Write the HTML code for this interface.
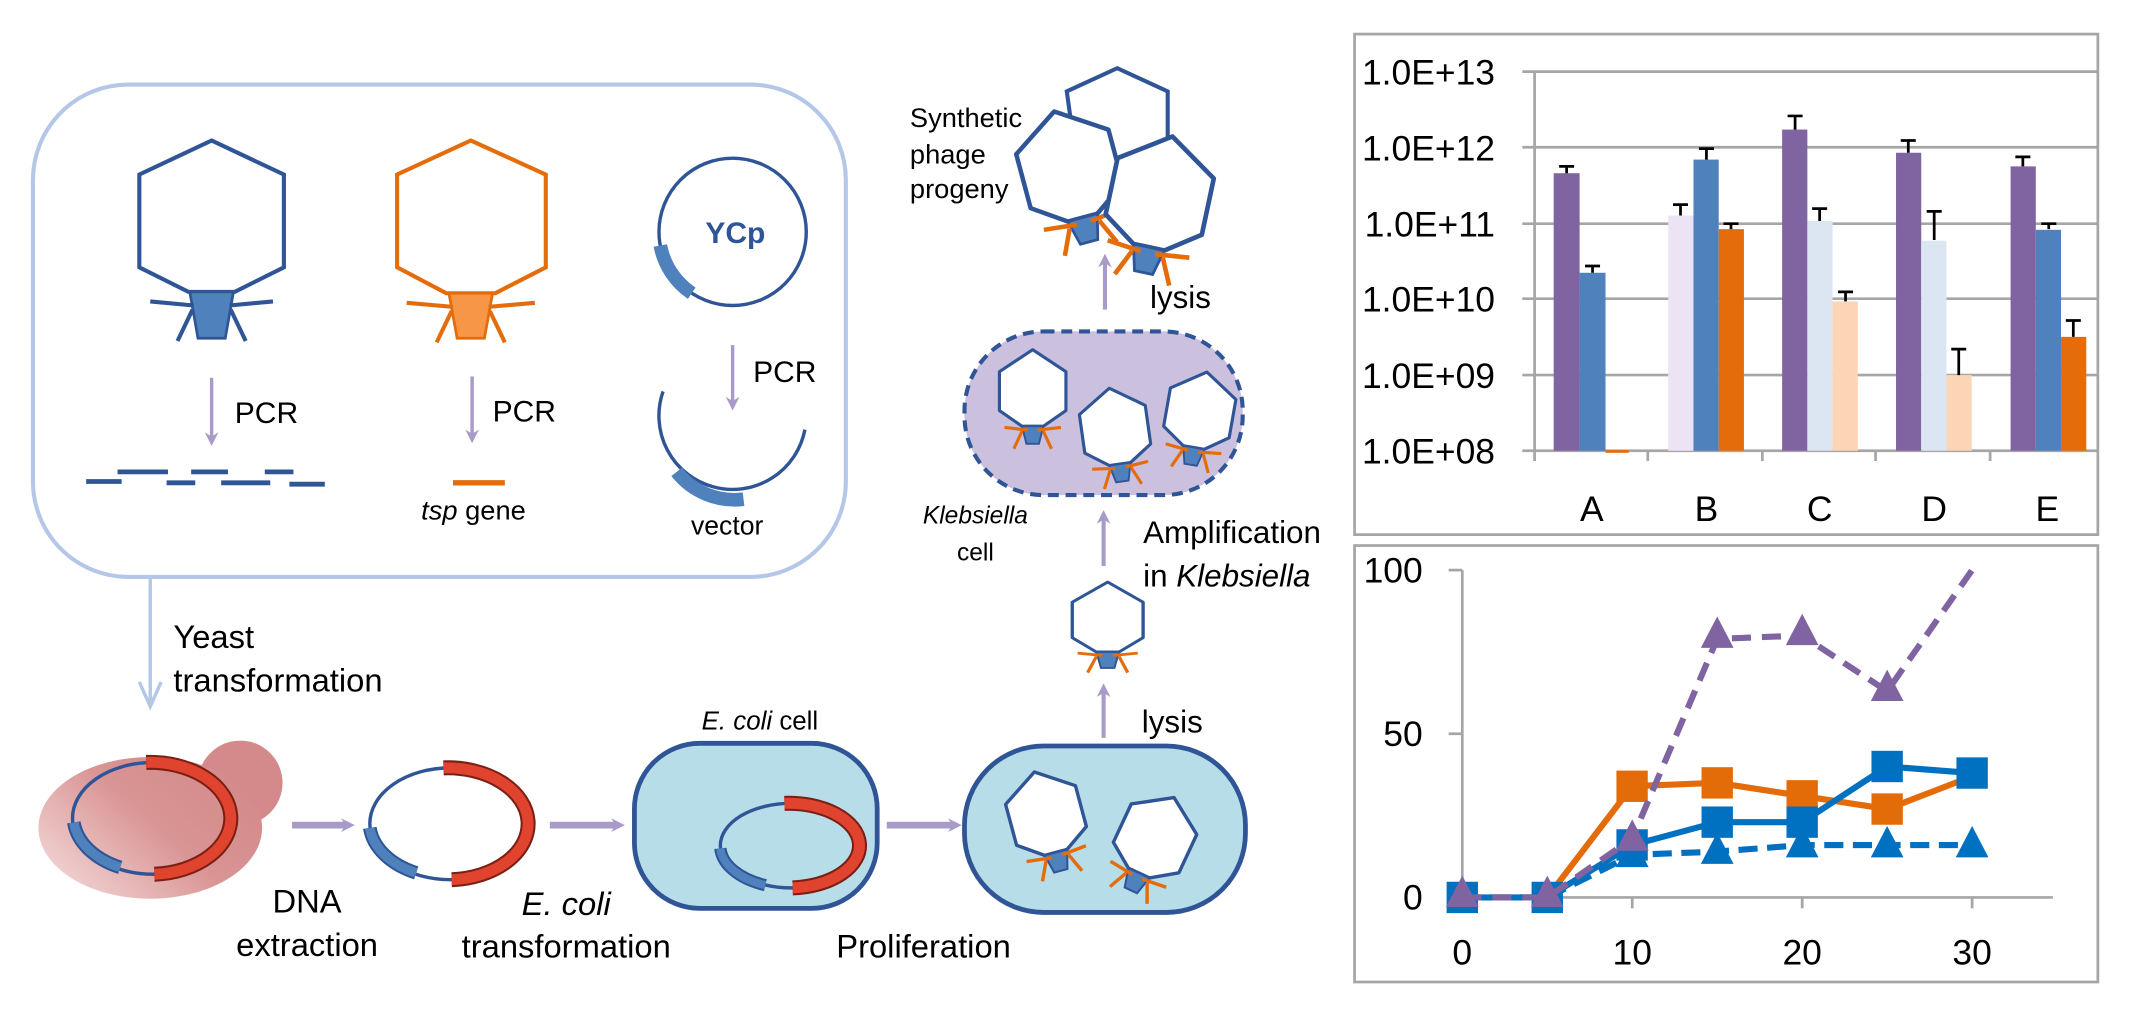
<!DOCTYPE html>
<html><head><meta charset="utf-8"><style>html,body{margin:0;padding:0;background:#fff}svg{display:block}</style></head>
<body>
<svg width="2139" height="1012" viewBox="0 0 1568 742" xmlns="http://www.w3.org/2000/svg" font-family="Liberation Sans, sans-serif">
<defs>
<linearGradient id="yg" x1="0" y1="1" x2="1" y2="0.3"><stop offset="0" stop-color="#f7e1e1"/><stop offset="0.6" stop-color="#d99494"/><stop offset="1" stop-color="#d48a8a"/></linearGradient>
<g id="ph">
<polygon points="0,-60 53,-25 53,37 17,62 -17,62 -53,37 -53,-25" fill="#fff" stroke="#2f5597" stroke-width="5" stroke-linejoin="round"/>
<polygon points="-17,62 17,62 10,90 -10,90" fill="#4f81bd" stroke="#2f5597" stroke-width="3"/>
<g stroke="#e46c0a" stroke-width="5"><line x1="-8" y1="68" x2="-45" y2="64"/><line x1="8" y1="68" x2="45" y2="64"/><line x1="-17" y1="70" x2="-30" y2="98"/><line x1="17" y1="70" x2="30" y2="98"/></g>
</g>
<marker id="ar" markerWidth="10" markerHeight="10" refX="5" refY="5" orient="auto" markerUnits="userSpaceOnUse"><path d="M0,0 L10,5 L0,10 L3,5z" fill="#a99bc9"/></marker>
<path id="tri" d="M0,-14 L12,9 L-12,9z"/>
</defs>

<rect x="24" y="62" width="596" height="361" rx="70" fill="none" stroke="#b4c7e7" stroke-width="3"/>
<polygon points="155,103 208,128 208,196 172,214 138,214 102,196 102,128" fill="#fff" stroke="#2f5597" stroke-width="3"/>
<polygon points="139,214 171,214 165,248 145,248" fill="#4f81bd" stroke="#2f5597" stroke-width="2"/>
<g stroke="#2f5597" stroke-width="3"><line x1="142" y1="224" x2="110" y2="221"/><line x1="168" y1="224" x2="200" y2="221"/><line x1="141" y1="227" x2="130" y2="250"/><line x1="169" y1="227" x2="180" y2="250"/></g>
<polygon points="345,103 400,128 400,196 363,215 327,215 291,196 291,128" fill="#fff" stroke="#e46c0a" stroke-width="3"/>
<polygon points="329,215 361,215 355,248 335,248" fill="#f79646" stroke="#e46c0a" stroke-width="2"/>
<g stroke="#e46c0a" stroke-width="3"><line x1="332" y1="225" x2="298" y2="222"/><line x1="358" y1="225" x2="392" y2="222"/><line x1="331" y1="228" x2="320" y2="251"/><line x1="359" y1="228" x2="370" y2="251"/></g>
<circle cx="537" cy="170" r="54" fill="none" stroke="#2f5597" stroke-width="2.5"/>
<path d="M484,180 A54,54 0 0,0 507,215" fill="none" stroke="#4f81bd" stroke-width="10"/>
<text x="539" y="178" font-size="22" font-weight="bold" fill="#2f5597" text-anchor="middle">YCp</text>
<g stroke="#a99bc9" stroke-width="2.5"><line x1="155" y1="277" x2="155" y2="322" marker-end="url(#ar)"/><line x1="346" y1="276" x2="346" y2="320" marker-end="url(#ar)"/><line x1="537" y1="253" x2="537" y2="296" marker-end="url(#ar)"/></g>
<g font-size="22" fill="#000"><text x="172" y="310">PCR</text><text x="361" y="309">PCR</text><text x="552" y="280">PCR</text></g>
<g stroke="#2f5597" stroke-width="3.5"><line x1="63" y1="353" x2="89" y2="353"/><line x1="86" y1="346" x2="123" y2="346"/><line x1="122" y1="354" x2="143" y2="354"/><line x1="140" y1="346" x2="167" y2="346"/><line x1="162" y1="354" x2="198" y2="354"/><line x1="194" y1="346" x2="215" y2="346"/><line x1="212" y1="355" x2="238" y2="355"/></g>
<line x1="332" y1="354" x2="370" y2="354" stroke="#e46c0a" stroke-width="4"/>
<text x="347" y="381" font-size="20" text-anchor="middle"><tspan font-style="italic">tsp</tspan> gene</text>
<path d="M486,287 A54,54 0 1,0 590,315" fill="none" stroke="#2f5597" stroke-width="2.5"/>
<path d="M496,346 A54,54 0 0,0 545,366" fill="none" stroke="#4f81bd" stroke-width="10"/>
<text x="533" y="392" font-size="19.5" text-anchor="middle">vector</text>

<line x1="110" y1="423" x2="110" y2="515" stroke="#b4c7e7" stroke-width="2.5"/>
<path d="M102,500 L110,518 L118,500" fill="none" stroke="#b4c7e7" stroke-width="2.5"/>
<text x="127" y="475" font-size="24">Yeast</text><text x="127" y="507" font-size="24">transformation</text>

<circle cx="176" cy="574" r="31" fill="#d48a8a"/>
<ellipse cx="110" cy="607" rx="82" ry="52" fill="url(#yg)"/>
<ellipse cx="112" cy="600" rx="59" ry="41" fill="none" stroke="#2f5597" stroke-width="2.5"/>
<path d="M107,559 A59,41 0 0,1 113,641" fill="none" stroke="#7a1f14" stroke-width="11"/>
<path d="M107,559 A59,41 0 0,1 113,641" fill="none" stroke="#e0442f" stroke-width="8"/>
<path d="M54,603 A59,41 0 0,0 88,636" fill="none" stroke="#2f5597" stroke-width="10"/>
<path d="M54,603 A59,41 0 0,0 88,636" fill="none" stroke="#4f81bd" stroke-width="7"/>

<g stroke="#a99bc9" stroke-width="5"><line x1="214" y1="605" x2="255" y2="605" marker-end="url(#ar)"/><line x1="403" y1="605" x2="453" y2="605" marker-end="url(#ar)"/><line x1="650" y1="605" x2="700" y2="605" marker-end="url(#ar)"/></g>

<ellipse cx="330" cy="604" rx="59" ry="41" fill="none" stroke="#2f5597" stroke-width="2.5"/>
<path d="M325,563 A59,41 0 0,1 331,645" fill="none" stroke="#7a1f14" stroke-width="11"/>
<path d="M325,563 A59,41 0 0,1 331,645" fill="none" stroke="#e0442f" stroke-width="8"/>
<path d="M271,607 A59,41 0 0,0 305,640" fill="none" stroke="#2f5597" stroke-width="10"/>
<path d="M271,607 A59,41 0 0,0 305,640" fill="none" stroke="#4f81bd" stroke-width="7"/>

<text x="225" y="669" font-size="24" text-anchor="middle">DNA</text><text x="225" y="701" font-size="24" text-anchor="middle">extraction</text>
<text x="415" y="671" font-size="24" text-anchor="middle" font-style="italic">E. coli</text><text x="415" y="702" font-size="24" text-anchor="middle">transformation</text>
<text x="677" y="702" font-size="24" text-anchor="middle">Proliferation</text>
<text x="557" y="535" font-size="19" text-anchor="middle"><tspan font-style="italic">E. coli</tspan> cell</text>

<rect x="465" y="545" width="178" height="121" rx="48" fill="#b7dde8" stroke="#2f5597" stroke-width="3.5"/>
<ellipse cx="580" cy="620" rx="52" ry="31" fill="none" stroke="#2f5597" stroke-width="2.5"/>
<path d="M575,589 A52,31 0 0,1 581,651" fill="none" stroke="#7a1f14" stroke-width="11"/>
<path d="M575,589 A52,31 0 0,1 581,651" fill="none" stroke="#e0442f" stroke-width="8"/>
<path d="M528,622 A52,31 0 0,0 561,649" fill="none" stroke="#2f5597" stroke-width="9"/>
<path d="M528,622 A52,31 0 0,0 561,649" fill="none" stroke="#4f81bd" stroke-width="6"/>

<rect x="707" y="547" width="206" height="122" rx="58" fill="#b7dde8" stroke="#2f5597" stroke-width="3.5"/>
<use href="#ph" transform="translate(766,595) rotate(-15) scale(0.5)"/>
<use href="#ph" transform="translate(848,612) rotate(25) scale(0.5)"/>

<g stroke="#a99bc9" stroke-width="3"><line x1="809" y1="541" x2="809" y2="506" marker-end="url(#ar)"/><line x1="809" y1="415" x2="809" y2="379" marker-end="url(#ar)"/><line x1="810" y1="227" x2="810" y2="191" marker-end="url(#ar)"/></g>
<text x="837" y="537" font-size="23">lysis</text>
<text x="843" y="226" font-size="23">lysis</text>
<text x="838" y="398" font-size="23">Amplification</text>
<text x="838" y="430" font-size="23">in <tspan font-style="italic">Klebsiella</tspan></text>
<use href="#ph" transform="translate(812,452) scale(0.49,0.42)"/>

<rect x="707" y="243" width="204" height="120" rx="58" fill="#cbc0dd" stroke="#2f5597" stroke-width="3" stroke-dasharray="8,5"/>
<use href="#ph" transform="translate(757,284) scale(0.46)"/>
<use href="#ph" transform="translate(817,312) rotate(-8) scale(0.46)"/>
<use href="#ph" transform="translate(880,300) rotate(10) scale(0.46)"/>
<text x="715" y="384" font-size="18" font-style="italic" text-anchor="middle">Klebsiella</text>
<text x="715" y="411" font-size="18" text-anchor="middle">cell</text>

<polygon points="819,50 856,67 856,102 820,118 788,110 782,67" fill="#fff" stroke="#2f5597" stroke-width="3"/>
<use href="#ph" transform="translate(783,120) rotate(-15) scale(0.66)"/>
<use href="#ph" transform="translate(851,140) rotate(12) scale(0.68)"/>
<text x="667" y="93" font-size="20">Synthetic</text>
<text x="667" y="120" font-size="20">phage</text>
<text x="667" y="145" font-size="20">progeny</text>

<!-- bar chart -->
<rect x="993" y="25" width="545" height="367" fill="#fff" stroke="#a6a6a6" stroke-width="2"/>
<g stroke="#a6a6a6" stroke-width="2"><line x1="1116" y1="52.5" x2="1538" y2="52.5"/><line x1="1116" y1="108" x2="1538" y2="108"/><line x1="1116" y1="164" x2="1538" y2="164"/><line x1="1116" y1="219" x2="1538" y2="219"/><line x1="1116" y1="275" x2="1538" y2="275"/><line x1="1116" y1="330.5" x2="1538" y2="330.5"/><line x1="1125" y1="52.5" x2="1125" y2="338"/><line x1="1208" y1="330" x2="1208" y2="338"/><line x1="1292" y1="330" x2="1292" y2="338"/><line x1="1375" y1="330" x2="1375" y2="338"/><line x1="1459" y1="330" x2="1459" y2="338"/></g>
<g font-size="26" text-anchor="end"><text x="1096" y="62">1.0E+13</text><text x="1096" y="117.5">1.0E+12</text><text x="1096" y="173.5">1.0E+11</text><text x="1096" y="228.5">1.0E+10</text><text x="1096" y="284.5">1.0E+09</text><text x="1096" y="340">1.0E+08</text></g>
<g font-size="26" text-anchor="middle"><text x="1167" y="382">A</text><text x="1251" y="382">B</text><text x="1334" y="382">C</text><text x="1418" y="382">D</text><text x="1501" y="382">E</text></g>
<g>
<rect x="1139" y="127" width="19" height="203.5" fill="#8064a2"/><rect x="1158" y="200" width="19" height="130.5" fill="#4f81bd"/><rect x="1177" y="330" width="17" height="2" fill="#e46c0a"/>
<rect x="1223" y="158" width="18.5" height="172.5" fill="#ece3f5"/><rect x="1241.5" y="117" width="18.5" height="213.5" fill="#4f81bd"/><rect x="1260" y="168" width="18.5" height="162.5" fill="#e46c0a"/>
<rect x="1306.5" y="95" width="18.5" height="235.5" fill="#8064a2"/><rect x="1325" y="162" width="18.5" height="168.5" fill="#dce6f2"/><rect x="1343.5" y="221" width="18.5" height="109.5" fill="#fcd5b5"/>
<rect x="1390" y="112" width="18.5" height="218.5" fill="#8064a2"/><rect x="1408.5" y="176.5" width="18.5" height="154" fill="#dce6f2"/><rect x="1427" y="275" width="18.5" height="55.5" fill="#fcd5b5"/>
<rect x="1474" y="122" width="18.5" height="208.5" fill="#8064a2"/><rect x="1492.5" y="168.5" width="18.5" height="162" fill="#4f81bd"/><rect x="1511" y="247" width="18.5" height="83.5" fill="#e46c0a"/>
</g>
<g stroke="#000" stroke-width="2">
<path d="M1148.5,127V122M1143,122H1154"/><path d="M1167.5,200V195M1162,195H1173"/>
<path d="M1232,158V150M1226.5,150H1237.5"/><path d="M1251,117V109M1245.5,109H1256.5"/><path d="M1269,168V164M1263.5,164H1274.5"/>
<path d="M1316,95V85M1310.5,85H1321.5"/><path d="M1334,162V153M1328.5,153H1339.5"/><path d="M1353,221V214M1347.5,214H1358.5"/>
<path d="M1399,112V103M1393.5,103H1404.5"/><path d="M1418,176V155M1412.5,155H1423.5"/><path d="M1436,275V256M1430.5,256H1441.5"/>
<path d="M1483,122V115M1477.5,115H1488.5"/><path d="M1502,168V164M1496.5,164H1507.5"/><path d="M1520,247V235M1514.5,235H1525.5"/>
</g>

<!-- line chart -->
<rect x="993" y="400" width="545" height="320" fill="#fff" stroke="#a6a6a6" stroke-width="2"/>
<g stroke="#a6a6a6" stroke-width="2"><line x1="1072" y1="418" x2="1072" y2="658"/><line x1="1062" y1="418" x2="1072" y2="418"/><line x1="1062" y1="538" x2="1072" y2="538"/><line x1="1062" y1="658" x2="1505" y2="658"/><line x1="1196.6" y1="658" x2="1196.6" y2="666"/><line x1="1321.2" y1="658" x2="1321.2" y2="666"/><line x1="1445.8" y1="658" x2="1445.8" y2="666"/></g>
<g font-size="26" text-anchor="end"><text x="1043" y="427">100</text><text x="1043" y="547">50</text><text x="1043" y="667">0</text></g>
<g font-size="26" text-anchor="middle"><text x="1072" y="707">0</text><text x="1196.6" y="707">10</text><text x="1321.2" y="707">20</text><text x="1445.8" y="707">30</text></g>
<polyline points="1134.3,658 1196.6,576.4 1258.9,574 1321.2,583.6 1383.5,593.2 1445.8,569.2" fill="none" stroke="#e36c09" stroke-width="4.5"/>
<g fill="#e36c09"><rect x="1185" y="565" width="23" height="23"/><rect x="1247.4" y="562.5" width="23" height="23"/><rect x="1309.7" y="572" width="23" height="23"/><rect x="1372" y="581.7" width="23" height="23"/></g>
<polyline points="1072,658 1134.3,658 1196.6,626.8 1258.9,624.4 1321.2,619.6 1383.5,619.6 1445.8,619.6" fill="none" stroke="#0070c0" stroke-width="4.5" stroke-dasharray="14,7"/>
<g fill="#0070c0"><use href="#tri" x="1196.6" y="626.8"/><use href="#tri" x="1258.9" y="624.4"/><use href="#tri" x="1321.2" y="619.6"/><use href="#tri" x="1383.5" y="619.6"/><use href="#tri" x="1445.8" y="619.6"/></g>
<polyline points="1072,658 1134.3,658 1196.6,619.6 1258.9,602.8 1321.2,602.8 1383.5,562 1445.8,566.8" fill="none" stroke="#0070c0" stroke-width="4.5"/>
<g fill="#0070c0"><rect x="1060.5" y="646.5" width="23" height="23"/><rect x="1122.8" y="646.5" width="23" height="23"/><rect x="1185" y="608" width="23" height="23"/><rect x="1247.4" y="591.3" width="23" height="23"/><rect x="1309.7" y="591.3" width="23" height="23"/><rect x="1372" y="550.5" width="23" height="23"/><rect x="1434.3" y="555.3" width="23" height="23"/></g>
<polyline points="1072,658 1134.3,658 1196.6,614.8 1258.9,468.4 1321.2,466 1383.5,506.8 1445.8,418" fill="none" stroke="#8064a2" stroke-width="4.5" stroke-dasharray="14,8"/>
<g fill="#8064a2"><use href="#tri" x="1072" y="656"/><use href="#tri" x="1134.3" y="656"/><use href="#tri" x="1196.6" y="614.8"/><use href="#tri" x="1258.9" y="466"/><use href="#tri" x="1321.2" y="464"/><use href="#tri" x="1383.5" y="505"/></g>
</svg>
</body></html>
